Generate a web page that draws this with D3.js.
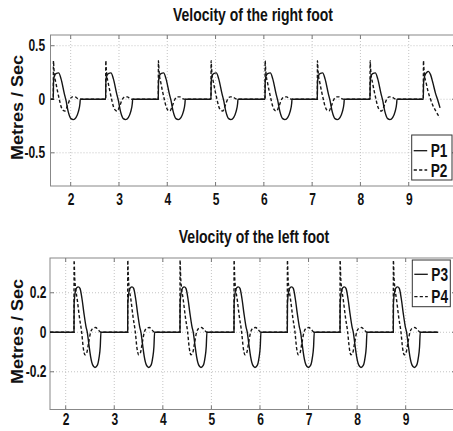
<!DOCTYPE html>
<html>
<head>
<meta charset="utf-8">
<script src="https://cdn.jsdelivr.net/npm/d3@7/dist/d3.min.js"></script>
<style>
  html, body { margin: 0; padding: 0; background: #fff; }
  svg { display: block; }
  text { font-family: "Liberation Sans", Arial, sans-serif; font-weight: bold; fill: #111; }
</style>
</head>
<body>
<svg id="chart" width="453" height="431"></svg>
<script>
// Foot velocity per stride: [time since heel-off (s), velocity (m/s)]
const p1Stride = [[0,0],[0.004,0.15],[0.02,0.215],[0.055,0.24],[0.11,0.246],[0.159,0.193],[0.228,0.053],[0.262,-0.009],[0.31,-0.118],[0.366,-0.181],[0.414,-0.19],[0.469,-0.171],[0.518,-0.118],[0.552,-0.04],[0.559,0]];
const p2Stride = [[0,0],[0.003,0.36],[0.012,0.29],[0.025,0.22],[0.05,0.16],[0.085,0.08],[0.124,0],[0.159,-0.065],[0.207,-0.105],[0.24,-0.11],[0.297,-0.056],[0.345,0],[0.4,0.022],[0.449,0.022],[0.504,0.006],[0.559,0]];
const p3Stride = [[0,0],[0.003,0.146],[0.027,0.205],[0.055,0.225],[0.089,0.23],[0.123,0.222],[0.164,0.171],[0.205,0.096],[0.247,0.029],[0.274,0],[0.308,-0.064],[0.342,-0.123],[0.384,-0.165],[0.432,-0.178],[0.479,-0.168],[0.514,-0.131],[0.541,-0.072],[0.555,0]];
const p4Stride = [[0,0],[0.002,0.365],[0.014,0.28],[0.034,0.222],[0.068,0.163],[0.11,0.079],[0.158,0],[0.192,-0.081],[0.226,-0.114],[0.26,-0.106],[0.3,-0.055],[0.342,0],[0.39,0.02],[0.445,0.024],[0.5,0.012],[0.555,0]];

// Last, unfinished stride of the right foot
const p1Tail = [[0,0],[0.005,0.15],[0.03,0.22],[0.07,0.25],[0.104,0.26],[0.15,0.23],[0.2,0.15],[0.25,0.06],[0.3,-0.01],[0.346,-0.08]];
const p2Tail = [[0,0],[0.003,0.36],[0.012,0.29],[0.03,0.21],[0.06,0.15],[0.1,0.07],[0.15,0],[0.2,-0.06],[0.26,-0.11],[0.31,-0.15],[0.346,-0.17]];

// Stride onsets (s) and recording span
const rightOnsets = [1.640, 2.724, 3.814, 4.905, 6.024, 7.107, 8.198];
const rightTailOnset = 9.302;
const rightSpan = [1.582, 9.648];
const leftOnsets = [2.171, 3.276, 4.353, 5.465, 6.563, 7.648, 8.745];
const leftSpan = [1.677, 9.67];

// Axis ticks
const xTicks = [2, 3, 4, 5, 6, 7, 8, 9];
const yTicksRight = [-0.5, 0, 0.5];
const yTicksLeft = [-0.2, 0, 0.2];

function buildSeries(span, onsets, stride, tailOnset, tail) {
  const pts = [[span[0], 0]];
  onsets.forEach(t0 => stride.forEach(([dt, v]) => pts.push([t0 + dt, v])));
  if (tail) tail.forEach(([dt, v]) => pts.push([tailOnset + dt, v]));
  else pts.push([span[1], 0]);
  return pts;
}

const panels = [
  {
    title: "Velocity of the right foot", titleX: 253, titleY: 20.7, titleLen: 160,
    left: 50.5, right: 456, top: 35, bottom: 186,
    xDomain: [1.582, 9.979], yDomain: [-0.81, 0.6], yTicks: yTicksRight,
    xPad: 7.8, yPad: 7.2, labelY: 107.5,
    series: [
      { name: "P1", dash: null, data: buildSeries(rightSpan, rightOnsets, p1Stride, rightTailOnset, p1Tail) },
      { name: "P2", dash: "3.2,2.2", data: buildSeries(rightSpan, rightOnsets, p2Stride, rightTailOnset, p2Tail) }
    ],
    legend: { x: 411.7, y: 135, w: 40.3, h: 45, rows: [150.7, 170], base: [156.7, 176.7] }
  },
  {
    title: "Velocity of the left foot", titleX: 254, titleY: 243, titleLen: 150.5,
    left: 50, right: 456, top: 258, bottom: 409.5,
    xDomain: [1.677, 10.036], yDomain: [-0.391, 0.376], yTicks: yTicksLeft,
    xPad: 4.6, yPad: 4.8, labelY: 331.5,
    series: [
      { name: "P3", dash: null, data: buildSeries(leftSpan, leftOnsets, p3Stride) },
      { name: "P4", dash: "3.2,2.2", data: buildSeries(leftSpan, leftOnsets, p4Stride) }
    ],
    legend: { x: 412.3, y: 260, w: 38, h: 46.7, rows: [274.3, 296.7], base: [280.7, 303.3] }
  }
];

const svg = d3.select("#chart");
const squeeze = 0.75;
const fmt = v => (v === 0 ? "0" : String(v));

panels.forEach((p, i) => {
  const x = d3.scaleLinear().domain(p.xDomain).range([p.left, p.right]);
  const y = d3.scaleLinear().domain(p.yDomain).range([p.bottom, p.top]);
  const g = svg.append("g");

  // dotted grid
  g.append("g").selectAll("line").data(xTicks).join("line")
    .attr("x1", d => x(d)).attr("x2", d => x(d))
    .attr("y1", p.top).attr("y2", p.bottom)
    .attr("stroke", "#c4c4c4").attr("stroke-width", 1).attr("stroke-dasharray", "1,2");
  g.append("g").selectAll("line").data(p.yTicks).join("line")
    .attr("x1", p.left).attr("x2", p.right)
    .attr("y1", d => y(d)).attr("y2", d => y(d))
    .attr("stroke", "#c4c4c4").attr("stroke-width", 1).attr("stroke-dasharray", "1,2");

  // inward ticks
  const tl = 4;
  g.append("g").selectAll("path").data(xTicks).join("path")
    .attr("d", d => `M${x(d)},${p.bottom}v${-tl}M${x(d)},${p.top}v${tl}`)
    .attr("stroke", "#777").attr("stroke-width", 1);
  g.append("g").selectAll("path").data(p.yTicks).join("path")
    .attr("d", d => `M${p.left},${y(d)}h${tl}M${p.right},${y(d)}h${-tl}`)
    .attr("stroke", "#777").attr("stroke-width", 1);

  // frame
  g.append("rect").attr("x", p.left).attr("y", p.top)
    .attr("width", p.right - p.left).attr("height", p.bottom - p.top)
    .attr("fill", "none").attr("stroke", "#888").attr("stroke-width", 1);

  // y label
  g.append("text").attr("transform", `translate(22.8,${p.labelY}) rotate(-90)`)
    .attr("text-anchor", "middle").style("font-size", "17px")
    .attr("textLength", 105).attr("lengthAdjust", "spacingAndGlyphs")
    .text("Metres / Sec");

  // tick labels
  const xa = g.append("g").attr("transform", `translate(0,${p.bottom})`)
    .call(d3.axisBottom(x).tickValues(xTicks).tickSize(0).tickPadding(p.xPad).tickFormat(fmt));
  const ya = g.append("g").attr("transform", `translate(${p.left},0)`)
    .call(d3.axisLeft(y).tickValues(p.yTicks).tickSize(0).tickPadding(p.yPad).tickFormat(fmt));
  [xa, ya].forEach(a => {
    a.select(".domain").remove();
    a.selectAll("text")
      .style("font-family", "'Liberation Sans', Arial, sans-serif")
      .style("font-weight", "bold").style("font-size", "16px").attr("fill", "#111")
      .attr("transform", `scale(${squeeze},1)`);
  });

  // data lines
  const clipId = "clip" + i;
  svg.append("clipPath").attr("id", clipId).append("rect")
    .attr("x", p.left).attr("y", p.top).attr("width", p.right - p.left).attr("height", p.bottom - p.top);
  const line = d3.line().x(d => x(d[0])).y(d => y(d[1])).curve(d3.curveMonotoneX);
  g.append("g").attr("clip-path", `url(#${clipId})`).selectAll("path").data(p.series).join("path")
    .attr("d", s => line(s.data))
    .attr("fill", "none").attr("stroke", "#151515").attr("stroke-width", 1.4)
    .attr("stroke-dasharray", s => s.dash);

  // title
  g.append("text").attr("x", p.titleX).attr("y", p.titleY)
    .attr("text-anchor", "middle").style("font-size", "17.5px")
    .attr("textLength", p.titleLen).attr("lengthAdjust", "spacingAndGlyphs")
    .text(p.title);

  // legend
  const L = p.legend;
  const lg = g.append("g");
  lg.append("rect").attr("x", L.x).attr("y", L.y).attr("width", L.w).attr("height", L.h)
    .attr("fill", "#fff").attr("stroke", "#333").attr("stroke-width", 1);
  p.series.forEach((s, k) => {
    lg.append("line").attr("x1", L.x + 2).attr("x2", L.x + 15.5)
      .attr("y1", L.rows[k]).attr("y2", L.rows[k])
      .attr("stroke", "#151515").attr("stroke-width", 1.3).attr("stroke-dasharray", s.dash);
    lg.append("text").attr("x", L.x + 19).attr("y", L.base[k])
      .style("font-size", "17.5px")
      .attr("textLength", 16.7).attr("lengthAdjust", "spacingAndGlyphs")
      .text(s.name);
  });
});
</script>
</body>
</html>
